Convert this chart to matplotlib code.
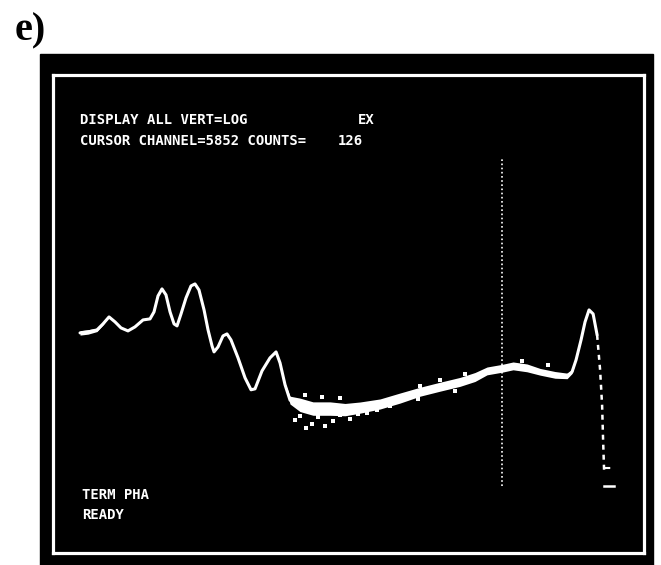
import numpy as np
import matplotlib
matplotlib.use("Agg")
import matplotlib.pyplot as plt
from matplotlib.patches import Rectangle

# PHA spectrum shown on the analyser screen (log vertical scale)
channels = [
    352, 456, 573, 651, 730, 808, 886, 977, 1068, 1173,
    1264, 1316, 1368, 1420, 1472, 1525, 1577, 1616, 1668, 1733,
    1798, 1850, 1902, 1968, 2020, 2072, 2098, 2150, 2215, 2267,
    2319, 2411, 2502, 2580, 2632, 2723, 2827, 2906, 2958, 3023,
    3088, 3218, 3388, 3609, 3805, 4000, 4261, 4521, 4782, 5042,
    5303, 5498, 5655, 5852, 5994, 6176, 6346, 6541, 6698, 6763,
    6815, 6880, 6932, 6984, 7037, 7089,
]
counts = [
    540, 562, 611, 781, 1042, 849, 663, 586, 691, 921,
    960, 1280, 2470, 3300, 2580, 1280, 781, 720, 1180, 2280,
    3730, 4050, 3160, 1390, 611, 316, 247, 303, 477, 518,
    405, 193, 85, 52, 54, 113, 193, 247, 157, 64,
    34, 28, 24, 24, 23, 25, 29, 37, 48, 59,
    72, 88, 113, 126, 139, 128, 109, 96, 92, 109,
    178, 405, 849, 1390, 1180, 497,
]
# scatter of the trace about its mean (decades, half width)
spread = [
    0.04, 0.04, 0.03, 0.02, 0, 0, 0, 0, 0, 0,
    0, 0, 0, 0, 0, 0, 0, 0, 0, 0,
    0, 0, 0, 0, 0, 0, 0, 0, 0, 0,
    0, 0, 0, 0, 0, 0, 0, 0, 0, 0.03,
    0.07, 0.12, 0.12, 0.12, 0.11, 0.10, 0.09, 0.09, 0.08, 0.08,
    0.08, 0.08, 0.07, 0.07, 0.07, 0.07, 0.06, 0.06, 0.05, 0.03,
    0, 0, 0, 0, 0, 0,
]

# falling edge of the last peak, drawn dashed
tail_channels = [7089, 7128, 7154, 7167, 7180]
tail_counts = [497, 118, 28, 6.6, 1.9]
floor_channels = [7180, 7310]
floor_counts = [1.0, 1.0]
step_counts = [2.1, 2.1]

# stray counts around the noisy band
stray_channels = [
    3153, 3218, 3297, 3375, 3453, 3544, 3648, 3740, 3870, 3974,
    4091, 4222, 4391, 3284, 3505, 3740, 4782, 5042, 5368, 6111,
    6450, 5238, 4756,
]
stray_counts = [
    15.1, 17.8, 10.9, 12.8, 17.1, 11.8, 14.5, 18.5, 15.7, 19.3,
    20.1, 22.8, 26.8, 42, 38.8, 37.3, 61, 78, 100, 171,
    145, 50, 35.8,
]

cursor_channel = 5852
cursor_counts = 126
cursor_span = (1.0, 7.5e5)

W, H = 661, 565


def fig_xy(px, py):
    return px / W, 1 - py / H


fig = plt.figure(figsize=(W / 100, H / 100), dpi=100)
fig.patch.set_facecolor("white")

# black screen behind the display frame
fig.patches.append(Rectangle((40 / W, 0), 613 / W, 511 / H,
                             transform=fig.transFigure, color="black", zorder=-10))

ax = fig.add_axes([53 / W, 12 / H, 591 / W, 478 / H])
ax.set_zorder(1)
ax.set_facecolor("black")
ax.set_yscale("log")
ax.set_xlim(0, 7700)
ax.set_ylim(10 ** -1.2, 10 ** 7.34)
for s in ax.spines.values():
    s.set_color("white")
    s.set_linewidth(2.3)
ax.tick_params(which="both", left=False, bottom=False,
               labelleft=False, labelbottom=False)

ch = np.array(channels, dtype=float)
ct = np.array(counts, dtype=float)
sp = np.array(spread)
ax.fill_between(ch, ct / 10 ** sp, ct * 10 ** sp, color="white", lw=0)
ax.plot(ch, ct, color="white", lw=2.2, solid_capstyle="round",
        solid_joinstyle="round")
ax.plot(tail_channels, tail_counts, color="white", lw=1.8, ls=(0, (2, 2)))
ax.plot(floor_channels, floor_counts, color="white", lw=1.8)
ax.plot(floor_channels, step_counts, color="white", lw=1.5, ls=(0, (3, 3)))
ax.scatter(stray_channels, stray_counts, s=6, color="white", lw=0, marker="s")

# cursor marker
ax.vlines(cursor_channel, *cursor_span, colors="white", lw=1.2,
          linestyles=(0, (1, 1.5)))

mono = dict(family="DejaVu Sans Mono", fontsize=10, fontweight="bold",
            color="white", va="baseline", ha="left", zorder=5)
fig.text(*fig_xy(80, 124), "DISPLAY ALL VERT=LOG", **mono)
fig.text(*fig_xy(358, 124), "EX", **mono)
fig.text(*fig_xy(80, 145), "CURSOR CHANNEL=%d COUNTS=" % cursor_channel, **mono)
fig.text(*fig_xy(338, 145), "%d" % cursor_counts, **mono)
fig.text(*fig_xy(82, 499), "TERM PHA", **mono)
fig.text(*fig_xy(82, 519), "READY", **mono)

fig.text(*fig_xy(15, 40), "e)", family="Liberation Serif", fontweight="bold",
         fontsize=29, color="black", va="baseline", ha="left")

fig.savefig("out.png", dpi=100, facecolor="white")
